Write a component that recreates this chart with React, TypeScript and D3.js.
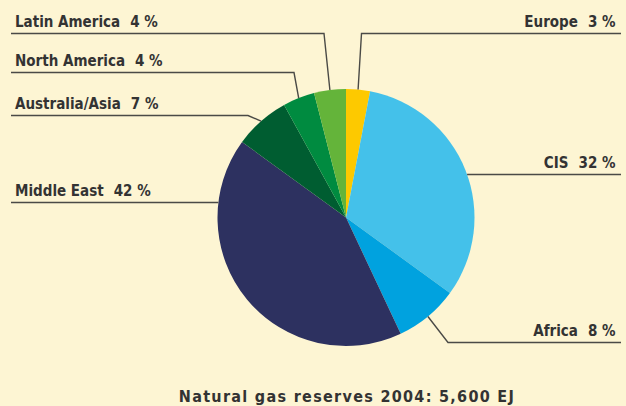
import React from "react";
import * as d3 from "d3";

const categories = ["Europe", "CIS", "Africa", "Middle East", "Australia/Asia", "North America", "Latin America"];
const shares = [3, 32, 8, 42, 7, 4, 4];
const colors = ["#fdc900", "#44c1ea", "#00a2df", "#2d3160", "#005d31", "#008b40", "#64b43a"];
const title = "Natural gas reserves 2004: 5,600 EJ";

// label layout: side, y of leader line, elbow x (null = straight horizontal to pie edge)
const labelLayout: { side: "left" | "right"; lineY: number; elbowX: number | null }[] = [
  { side: "right", lineY: 33.5, elbowX: 361.5 },
  { side: "right", lineY: 174.5, elbowX: null },
  { side: "right", lineY: 342.5, elbowX: 448 },
  { side: "left", lineY: 202.5, elbowX: null },
  { side: "left", lineY: 115.5, elbowX: 248 },
  { side: "left", lineY: 72.5, elbowX: 294 },
  { side: "left", lineY: 33.5, elbowX: 324 },
];

const W = 626;
const H = 406;
const cx = 346;
const cy = 217.5;
const R = 128.5;
const leftX = 11;
const rightX = 621;
const font = "'Liberation Sans Narrow', 'DejaVu Sans Condensed', 'Arial Narrow', sans-serif";

export default function App() {
  const data = categories.map((c, i) => ({ name: c, value: shares[i], color: colors[i], layout: labelLayout[i] }));
  const pie = d3.pie<(typeof data)[number]>().value((d) => d.value).sort(null);
  const arcs = pie(data);
  const arc = d3.arc<d3.PieArcDatum<(typeof data)[number]>>().innerRadius(0).outerRadius(R);

  return (
    <svg width={W} height={H} style={{ position: "absolute", left: 0, top: 0, display: "block" }}>
      <rect x={0} y={0} width={W} height={H} fill="#fdf5d3" />
      <g transform={`translate(${cx},${cy})`}>
        {arcs.map((a, i) => (
          <path key={i} d={arc(a) || ""} fill={a.data.color} />
        ))}
      </g>
      {arcs.map((a, i) => {
        const L = a.data.layout;
        const mid = (a.startAngle + a.endAngle) / 2;
        let pts: [number, number][];
        if (L.elbowX === null) {
          const dy = L.lineY - cy;
          const dx = Math.sqrt(R * R - dy * dy);
          const edgeX = L.side === "left" ? cx - dx : cx + dx;
          pts = [
            [L.side === "left" ? leftX : rightX, L.lineY],
            [edgeX, L.lineY],
          ];
        } else {
          const px = cx + R * Math.sin(mid);
          const py = cy - R * Math.cos(mid);
          pts = [
            [L.side === "left" ? leftX : rightX, L.lineY],
            [L.elbowX, L.lineY],
            [px, py],
          ];
        }
        const line = d3.line();
        const tx = L.side === "left" ? 15 : 615.5;
        return (
          <g key={"l" + i}>
            <path d={line(pts) || ""} fill="none" stroke="#4a4a46" strokeWidth={1.4} />
            <text
              x={tx}
              y={L.lineY - 7}
              textAnchor={L.side === "left" ? "start" : "end"}
              fontFamily={font}
              fontWeight="bold"
              fontSize={15}
              fill="#333333"
            >
              {a.data.name}
              <tspan dx={10}>{`${a.data.value} %`}</tspan>
            </text>
          </g>
        );
      })}
      <text
        x={347}
        y={401.5}
        textAnchor="middle"
        fontFamily={font}
        fontWeight="bold"
        fontSize={16}
        letterSpacing={1.3}
        fill="#333333"
      >
        {title}
      </text>
    </svg>
  );
}
